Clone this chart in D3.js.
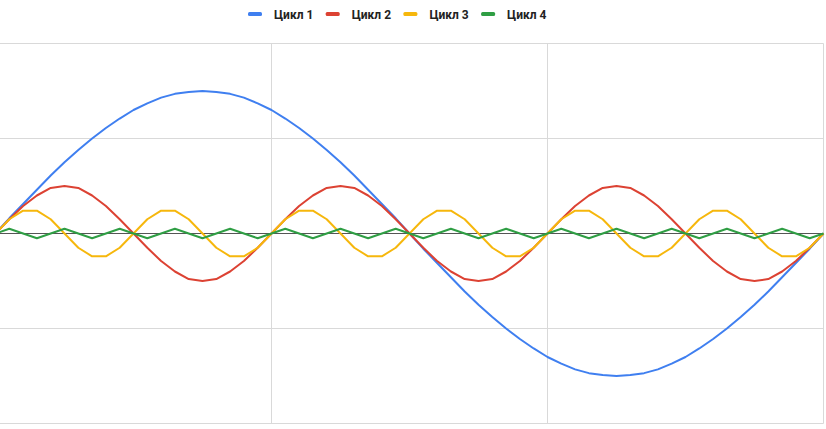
<!DOCTYPE html>
<html>
<head>
<meta charset="utf-8">
<script src="https://cdn.jsdelivr.net/npm/d3@7"></script>
<style>
  html, body { margin: 0; padding: 0; background: #fff; }
  svg { display: block; }
  text { font-family: Roboto, "Noto Sans", sans-serif; }
</style>
</head>
<body>
<script>
// ---- data ----
const seriesNames = ["Цикл 1", "Цикл 2", "Цикл 3", "Цикл 4"];
const seriesColors = ["#3f7ff0", "#dc4233", "#f6b70c", "#2f9e44"];

const cycle1 = [
  0, 0.16, 0.31, 0.46, 0.61, 0.75, 0.88, 1.00, 1.11, 1.21, 1.30, 1.37, 1.43, 1.47, 1.49,
  1.50, 1.49, 1.47, 1.43, 1.37, 1.30, 1.21, 1.11, 1.00, 0.88, 0.75, 0.61, 0.46, 0.31, 0.16,
  0, -0.16, -0.31, -0.46, -0.61, -0.75, -0.88, -1.00, -1.11, -1.21, -1.30, -1.37, -1.43, -1.47, -1.49,
  -1.50, -1.49, -1.47, -1.43, -1.37, -1.30, -1.21, -1.11, -1.00, -0.88, -0.75, -0.61, -0.46, -0.31, -0.16,
  0
];
const cycle2 = [
  0, 0.15, 0.29, 0.40, 0.48, 0.50, 0.48, 0.40, 0.29, 0.15,
  0, -0.15, -0.29, -0.40, -0.48, -0.50, -0.48, -0.40, -0.29, -0.15,
  0, 0.15, 0.29, 0.40, 0.48, 0.50, 0.48, 0.40, 0.29, 0.15,
  0, -0.15, -0.29, -0.40, -0.48, -0.50, -0.48, -0.40, -0.29, -0.15,
  0, 0.15, 0.29, 0.40, 0.48, 0.50, 0.48, 0.40, 0.29, 0.15,
  0, -0.15, -0.29, -0.40, -0.48, -0.50, -0.48, -0.40, -0.29, -0.15,
  0
];
const cycle3 = [
  0, 0.15, 0.24, 0.24, 0.15, 0, -0.15, -0.24, -0.24, -0.15,
  0, 0.15, 0.24, 0.24, 0.15, 0, -0.15, -0.24, -0.24, -0.15,
  0, 0.15, 0.24, 0.24, 0.15, 0, -0.15, -0.24, -0.24, -0.15,
  0, 0.15, 0.24, 0.24, 0.15, 0, -0.15, -0.24, -0.24, -0.15,
  0, 0.15, 0.24, 0.24, 0.15, 0, -0.15, -0.24, -0.24, -0.15,
  0, 0.15, 0.24, 0.24, 0.15, 0, -0.15, -0.24, -0.24, -0.15,
  0
];
const cycle4 = [
  0, 0.05, 0, -0.05, 0, 0.05, 0, -0.05, 0, 0.05, 0, -0.05, 0, 0.05, 0, -0.05,
  0, 0.05, 0, -0.05, 0, 0.05, 0, -0.05, 0, 0.05, 0, -0.05, 0, 0.05, 0, -0.05,
  0, 0.05, 0, -0.05, 0, 0.05, 0, -0.05, 0, 0.05, 0, -0.05, 0, 0.05, 0, -0.05,
  0, 0.05, 0, -0.05, 0, 0.05, 0, -0.05, 0, 0.05, 0, -0.05,
  0
];
const xGridValues = [0, 20, 40, 60];
const yGridValues = [-2, -1, 1, 2];
const yDomain = [-2, 2];
const xDomain = [0, 60];

const allSeries = [cycle1, cycle2, cycle3, cycle4];

// ---- layout ----
const W = 826, H = 429;
const svg = d3.select("body").append("svg").attr("width", W).attr("height", H);

const x = d3.scaleLinear().domain(xDomain).range([-4.5, 823.5]);
const y = d3.scaleLinear().domain(yDomain).range([423.5, 43.5]);

// gridlines
const grid = svg.append("g");
grid.selectAll("line.h").data(yGridValues).join("line")
  .attr("x1", x(xDomain[0])).attr("x2", x(xDomain[1]))
  .attr("y1", d => y(d)).attr("y2", d => y(d))
  .attr("stroke", "#d9d9d9").attr("stroke-width", 1);
grid.selectAll("line.v").data(xGridValues).join("line")
  .attr("x1", d => x(d)).attr("x2", d => x(d))
  .attr("y1", y(yDomain[1])).attr("y2", y(yDomain[0]))
  .attr("stroke", "#d9d9d9").attr("stroke-width", 1);

// baseline
svg.append("line")
  .attr("x1", x(xDomain[0])).attr("x2", x(xDomain[1]))
  .attr("y1", y(0)).attr("y2", y(0))
  .attr("stroke", "#555555").attr("stroke-width", 1);

// series
const line = d3.line().x((d, i) => x(i)).y(d => y(d));
svg.append("g").selectAll("path").data(allSeries).join("path")
  .attr("d", d => line(d))
  .attr("fill", "none")
  .attr("stroke", (d, i) => seriesColors[i])
  .attr("stroke-width", 2)
  .attr("stroke-linejoin", "round");

// legend
const legend = svg.append("g").attr("transform", "translate(248,0)");
const item = legend.selectAll("g").data(seriesNames).join("g")
  .attr("transform", (d, i) => `translate(${i * 77.7},0)`);
item.append("rect")
  .attr("x", 0).attr("y", 12).attr("width", 14).attr("height", 4).attr("rx", 1.5)
  .attr("fill", (d, i) => seriesColors[i]);
item.append("text")
  .attr("x", 26).attr("y", 18.5)
  .attr("font-size", 12).attr("font-weight", "bold").attr("fill", "#222")
  .text(d => d);
</script>
</body>
</html>
